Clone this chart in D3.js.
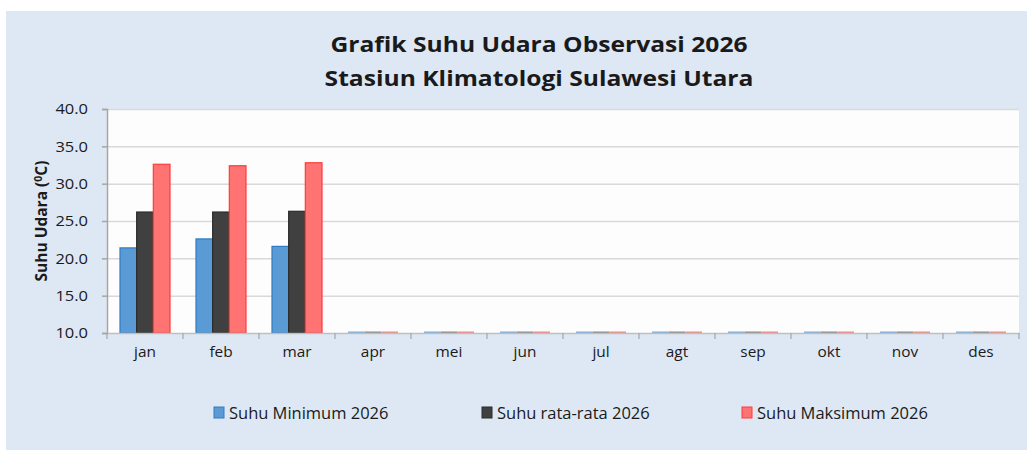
<!DOCTYPE html>
<html>
<head>
<meta charset="utf-8">
<script src="https://cdn.jsdelivr.net/npm/d3@7"></script>
<style>
    body { margin: 0; background: #ffffff; }
    text { font-family: "Open Sans", Lato, sans-serif; fill: #1a1a1a; }
</style>
</head>
<body>
<div id="chart"></div>
<script>
const _WIDTH = 1027
const _HEIGHT = 450
const _PLOT = { left: 107, top: 109, right: 1019, bottom: 333 }
const _FONT = "'Open Sans', Lato, sans-serif"
const _STRETCH = 1.1   // the source text is a bit wider than Open Sans

// data
const months = ["jan", "feb", "mar", "apr", "mei", "jun", "jul", "agt", "sep", "okt", "nov", "des"]
const suhuMin = [21.4, 22.6, 21.6, 0, 0, 0, 0, 0, 0, 0, 0, 0]
const suhuRata = [26.2, 26.2, 26.3, 0, 0, 0, 0, 0, 0, 0, 0, 0]
const suhuMax = [32.6, 32.4, 32.8, 0, 0, 0, 0, 0, 0, 0, 0, 0]
const yTicks = [10, 15, 20, 25, 30, 35, 40]

const series = [
    { name: "Suhu Minimum 2026", values: suhuMin, fill: "#5b9bd5", stroke: "#2f7cc4", flat: "#7fb0e0" },
    { name: "Suhu rata-rata 2026", values: suhuRata, fill: "#404040", stroke: "#2a2a2a", flat: "#8c8c8c" },
    { name: "Suhu Maksimum 2026", values: suhuMax, fill: "#ff7373", stroke: "#ff3b3b", flat: "#f08a8a" },
]

const svg = d3
    .select("#chart")
    .append("svg")
    .attr("width", _WIDTH)
    .attr("height", _HEIGHT)

// Background panel
// ===================================
svg
    .append("rect")
    .attr("x", 6)
    .attr("y", 11)
    .attr("width", _WIDTH - 6)
    .attr("height", _HEIGHT - 11)
    .attr("fill", "#dee8f4")

svg
    .append("rect")
    .attr("x", _PLOT.left)
    .attr("y", _PLOT.top)
    .attr("width", _PLOT.right - _PLOT.left)
    .attr("height", _PLOT.bottom - _PLOT.top)
    .attr("fill", "#fdfdfd")

// Title
// ===================================
const title = svg
    .append("text")
    .attr("transform", `translate(539,0) scale(1.12,1)`)
    .attr("text-anchor", "middle")
    .attr("font-weight", "bold")
    .attr("font-size", 22)
title.append("tspan").attr("x", 0).attr("y", 52).text("Grafik Suhu Udara Observasi 2026")
title.append("tspan").attr("x", 0).attr("y", 86).text("Stasiun Klimatologi Sulawesi Utara")

// Scales
// ===================================
const xScale = d3.scaleBand().domain(months).range([_PLOT.left, _PLOT.right])
const xInner = d3
    .scaleBand()
    .domain(series.map(d => d.name))
    .range([0, xScale.bandwidth()])
    .paddingInner(0)
    .paddingOuter(0.78)
const yScale = d3.scaleLinear().domain([10, 40]).range([_PLOT.bottom, _PLOT.top]).clamp(true)

// Grid
// ===================================
svg
    .append("g")
    .attr("class", "grid")
    .selectAll("line")
    .data(yTicks.slice(1))
    .join("line")
    .attr("x1", _PLOT.left)
    .attr("x2", _PLOT.right)
    .attr("y1", d => yScale(d) + 0.5)
    .attr("y2", d => yScale(d) + 0.5)
    .attr("stroke", "#d9d9d9")
    .attr("stroke-width", 1.5)

// Bars
// ===================================
series.forEach(s => {
    svg
        .append("g")
        .selectAll("rect")
        .data(s.values.map((v, i) => ({ month: months[i], value: v })))
        .join("rect")
        .attr("x", d => xScale(d.month) + xInner(s.name))
        .attr("width", xInner.bandwidth())
        .attr("y", d => {
            const h = yScale(10) - yScale(d.value)
            return h < 2 ? yScale(10) - 1.5 : yScale(d.value)
        })
        .attr("height", d => Math.max(2, yScale(10) - yScale(d.value)))
        .attr("fill", d => (yScale(10) - yScale(d.value) < 2 ? s.flat : s.fill))
        .attr("stroke", d => (yScale(10) - yScale(d.value) < 2 ? "none" : s.stroke))
        .attr("stroke-width", 1.2)
})

// Axes
// ===================================
const yAxis = svg
    .append("g")
    .attr("class", "y-axis")
    .attr("transform", `translate(${_PLOT.left},0)`)
    .call(d3.axisLeft(yScale).tickValues(yTicks).tickFormat(d3.format(".1f")).tickSize(5).tickPadding(14))
yAxis.select(".domain").attr("stroke", "#a6a6a6").attr("stroke-width", 1.5)
yAxis.selectAll(".tick line").attr("stroke", "#a6a6a6").attr("stroke-width", 1.5)
yAxis
    .selectAll(".tick text")
    .attr("x", -19 / _STRETCH)
    .attr("transform", `scale(${_STRETCH},1)`)
    .attr("font-size", 15)
    .attr("font-family", _FONT)
    .attr("fill", "#1a1a1a")

const xAxis = svg
    .append("g")
    .attr("class", "x-axis")
    .attr("transform", `translate(0,${_PLOT.bottom})`)
    .call(d3.axisBottom(xScale).tickSize(0).tickPadding(14))
xAxis.select(".domain").attr("stroke", "#bfbfbf").attr("stroke-width", 1.5)
xAxis
    .selectAll(".tick text")
    .attr("transform", `scale(${_STRETCH},1)`)
    .attr("font-size", 14)
    .attr("font-family", _FONT)
    .attr("fill", "#1a1a1a")

// boundary ticks between categories
svg
    .append("g")
    .selectAll("line")
    .data(months.concat(["end"]))
    .join("line")
    .attr("x1", (d, i) => (i < months.length ? xScale(d) : _PLOT.right))
    .attr("x2", (d, i) => (i < months.length ? xScale(d) : _PLOT.right))
    .attr("y1", _PLOT.bottom)
    .attr("y2", _PLOT.bottom + 6)
    .attr("stroke", "#a6a6a6")
    .attr("stroke-width", 1.2)

// Y axis title
// ===================================
const yTitle = svg
    .append("text")
    .attr("transform", `translate(47,${(_PLOT.top + _PLOT.bottom) / 2}) rotate(-90)`)
    .attr("text-anchor", "middle")
    .attr("font-weight", "bold")
    .attr("font-size", 15.5)
yTitle.append("tspan").text("Suhu Udara (")
yTitle.append("tspan").attr("font-size", 10.5).attr("dy", -5).text("0")
yTitle.append("tspan").attr("dy", 5).text("C)")

// Legend
// ===================================
const legendX = [214, 482, 742]
const legend = svg
    .append("g")
    .selectAll("g")
    .data(series)
    .join("g")
    .attr("transform", (d, i) => `translate(${legendX[i]},407)`)
legend
    .append("rect")
    .attr("width", 10)
    .attr("height", 11)
    .attr("fill", d => d.fill)
    .attr("stroke", d => d.stroke)
    .attr("stroke-width", 1)
legend
    .append("text")
    .attr("x", 15 / 1.03)
    .attr("y", 12)
    .attr("transform", `scale(1.03,1)`)
    .attr("font-size", 16)
    .text(d => d.name)
</script>
</body>
</html>
